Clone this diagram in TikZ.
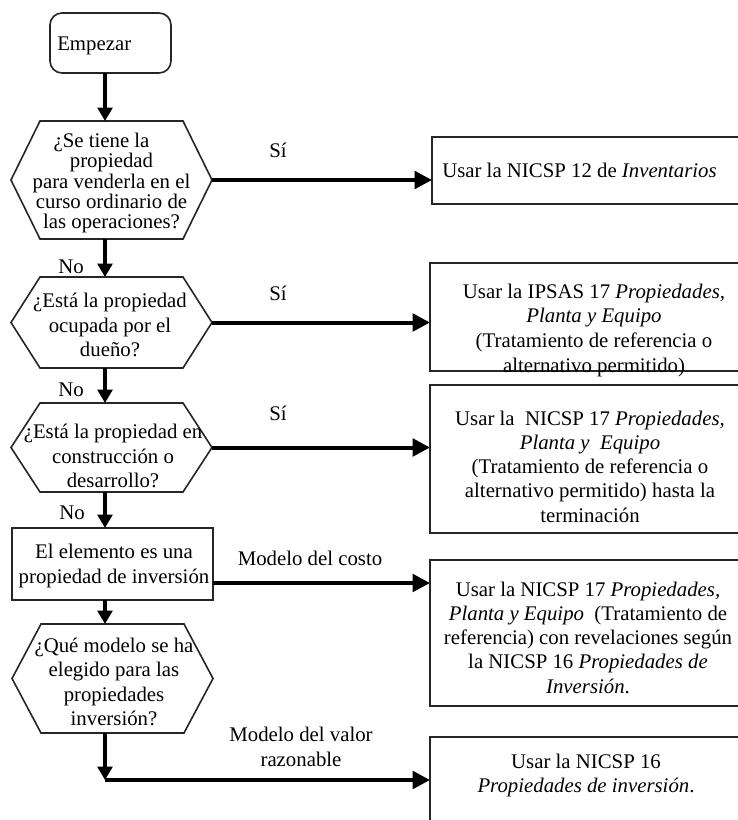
\documentclass[tikz,border=0pt]{standalone}
\usepackage{fontspec}
\setmainfont{Liberation Serif}
\usetikzlibrary{arrows.meta,calc,fit}
\newcommand\myhexagon[1]{\draw[frame] ($(#1.north west)+(29,0)$) -- ($(#1.north east)+(-29,0)$) -- (#1.east) -- ($(#1.south east)+(-29,0)$) -- ($(#1.south west)+(29,0)$) -- (#1.west) -- cycle;}
\begin{document}
\begin{tikzpicture}[x=0.75pt,y=-0.75pt,
  every node/.style={font=\fontsize{15.6}{18.2}\selectfont, inner sep=0pt, text=black},
  frame/.style={draw=black!85, line width=1.2pt},
  area/.style={inner sep=0pt, outer sep=0pt},
  txt/.style={align=center},
  harrow/.style={line width=3pt, -{Triangle[length=13pt,width=13pt]}},
  varrow/.style={line width=3.3pt, -{Triangle[length=10pt,width=11pt]}}
]
\clip (0,0) rectangle (738,820);
\fill[white] (0,0) rectangle (738,820);

% left column shapes
\node[area, frame, rounded corners=9pt, fit={(50,13) (171,73)}] (e) {};
\node[area, fit={(11,121) (212,239)}] (h1) {};
\node[area, fit={(11,277) (212,368)}] (h2) {};
\node[area, fit={(11,403) (212,492)}] (h3) {};
\node[area, frame, fit={(12,528) (213,600)}] (r) {};
\node[area, fit={(12,624) (213,733)}] (h4) {};
\myhexagon{h1}
\myhexagon{h2}
\myhexagon{h3}
\myhexagon{h4}

% right column boxes
\node[area, frame, fit={(432,137) (746,204)}] (b1) {};
\node[area, frame, fit={(430,263) (746,371)}] (b2) {};
\node[area, frame, fit={(430,385) (746,533)}] (b3) {};
\node[area, frame, fit={(430,560) (746,706)}] (b4) {};
\node[area, frame, fit={(430,737) (746,860)}] (b5) {};

% texts left
\node[anchor=west] (te) at (57,46) {Empezar};
\node[txt, font=\fontsize{15.6}{15.2}\selectfont] (th1) at (111.5,183)
  {¿Se tiene la\hspace*{15pt}\\ propiedad\hspace*{19pt}\\ para venderla en el\\ curso ordinario de\\ las operaciones?};
\node[txt] (th2) at (110,325) {¿Está la propiedad\\ ocupada por el\\ dueño?};
\node[txt] (th3) at (113,456) {¿Está la propiedad en\\ construcción o\\ desarrollo?};
\node[txt] (tr) at (114,566) {El elemento es una\\ propiedad de inversión};
\node[txt] (th4) at (114,682) {¿Qué modelo se ha\\ elegido para las\\ propiedades\\ inversión?};

% texts right
\node[anchor=west] (t1) at (442,170) {Usar la NICSP 12 de \textit{Inventarios}};
\node[txt, font=\fontsize{15.6}{18.5}\selectfont] (t2) at (594,330)
  {Usar la IPSAS 17 \textit{Propiedades,}\\ \textit{Planta y Equipo}\\ (Tratamiento de referencia o\\ alternativo permitido)};
\node[txt] (t3) at (590,466.5)
  {Usar la\ \ NICSP 17 \textit{Propiedades,}\\ \textit{Planta y\ \ Equipo}\\ (Tratamiento de referencia o\\ alternativo permitido) hasta la\\ terminación};
\node[txt] (t4) at (588,637.5)
  {Usar la NICSP 17 \textit{Propiedades,}\\ \textit{Planta y Equipo}\ \ (Tratamiento de\\ referencia) con revelaciones según\\ la NICSP 16 \textit{Propiedades de}\\ \textit{Inversión}.};
\node[txt] (t5) at (586,775.5) {Usar la NICSP 16\\ \textit{Propiedades de inversión}.};

% labels
\node (s1) at (278,150) {Sí};
\node (s2) at (278,293) {Sí};
\node (s3) at (278,413) {Sí};
\node (n1) at (71,267) {No};
\node (n2) at (71,390) {No};
\node (n3) at (72,513) {No};
\node (mc) at (310,558) {Modelo del costo};
\node[txt] (mv) at (301,747) {Modelo del valor\\ razonable};

% connectors
\coordinate (ax) at (105,0);
\draw[varrow] (e.south -| ax) -- (h1.north -| ax);
\draw[varrow] (h1.south -| ax) -- (h2.north -| ax);
\draw[varrow] (h2.south -| ax) -- (h3.north -| ax);
\draw[varrow] (h3.south -| ax) -- (r.north -| ax);
\draw[varrow] (r.south -| ax) -- (h4.north -| ax);
\draw[harrow] (h1.east) -- (b1.west |- h1.east);
\draw[harrow] (h2.east) -- (b2.west |- h2.east);
\draw[harrow] (h3.east) -- (b3.west |- h3.east);
\coordinate (c4) at (213,583);
\draw[harrow] (r.east |- c4) -- (b4.west |- c4);
\coordinate (c5) at (105,780);
\draw[varrow] (h4.south -| ax) -- (c5);
\draw[harrow] (c5) -- (b5.west |- c5);
\end{tikzpicture}
\end{document}
